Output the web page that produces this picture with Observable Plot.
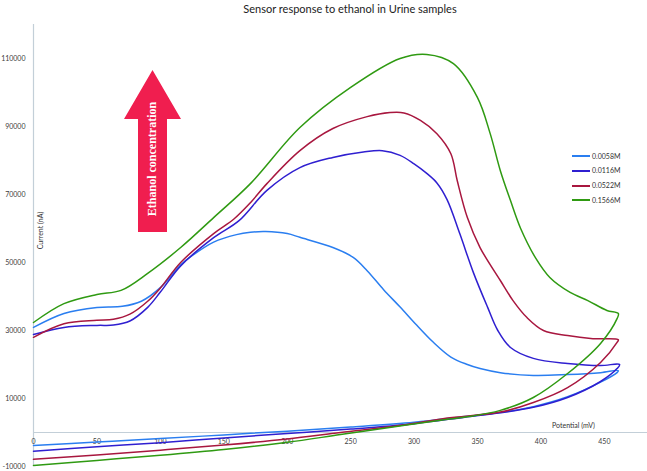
<!DOCTYPE html>
<html><head><meta charset="utf-8">
<script src="https://cdn.jsdelivr.net/npm/d3@7"></script>
<script src="https://cdn.jsdelivr.net/npm/@observablehq/plot@0.6"></script>
<style>
body{margin:0;background:#fff;}
#wrap{position:relative;width:647px;height:471px;overflow:hidden;background:#fff;font-family:Lato,"Open Sans",sans-serif;}
#title{position:absolute;top:2px;left:350px;transform:translateX(-50%);white-space:nowrap;font-size:11px;line-height:13px;color:#222;}
#chart{position:absolute;top:24px;left:0;}
#arrow{position:absolute;left:124px;top:70px;width:57px;height:162px;background:#f01e4f;
  clip-path:polygon(50% 0,100% 30.2%,75.4% 30.2%,75.4% 100%,24.6% 100%,24.6% 30.2%,0 30.2%);}
#arrowText{position:absolute;left:152px;top:159px;transform:translate(-50%,-50%) rotate(-90deg);white-space:nowrap;
  font-family:"Liberation Serif","DejaVu Serif",serif;font-weight:bold;font-size:12px;color:#fff;}
.lg-line{position:absolute;left:572px;width:18px;height:2px;}
.lg-text{position:absolute;left:592px;font-size:7px;line-height:9px;color:#333;white-space:nowrap;}
</style></head><body>
<div id="wrap">
  <div id="title">Sensor response to ethanol in Urine samples</div>
  <div id="chart"></div>
  <div id="arrow"></div>
  <div id="arrowText">Ethanol concentration</div>
  <div id="legend"></div>
</div>
<script>
const seriesLabels = ["0.0058M", "0.0116M", "0.0522M", "0.1566M"];
const seriesColors = ["#2a7ef0", "#2f1fd0", "#a8173f", "#2f9a12"];
const xTicks = [0, 50, 100, 150, 200, 250, 300, 350, 400, 450];
const yTicks = [-10000, 10000, 30000, 50000, 70000, 90000, 110000];

// 0.0058M (forward branch, then reverse branch)
const potential0058 = [0,24,50,70,85,100,116,125,142,160,171,183,200,210,236,252,263,276,289,302,315,329,342,352,368,394,421,447,461,
  460,447,421,394,368,340,300,250,200,150,100,50,0];
const current0058 = [30900,35000,36800,37100,38600,42600,49300,52000,56000,58200,58900,59100,58500,57400,54400,51500,47600,42000,36900,31600,26600,22200,20000,18800,17600,16800,17050,17600,18200,
  17600,14800,10500,7600,5900,4700,3000,1600,400,-700,-1800,-2800,-3800];

// 0.0116M
const potential0116 = [0,24,50,63,76,90,100,116,142,162,184,210,236,260,275,289,300,310,318,326,336,347,358,366,376,394,421,447,462,
  460,447,421,394,368,340,300,250,200,150,100,50,0];
const current0116 = [28800,30900,31500,31600,32800,36800,41300,49000,57300,62300,71200,77900,80900,82500,82900,81500,79000,76200,73400,68500,58500,46800,36800,30000,25000,21800,20300,19700,20000,
  18800,15000,10300,7400,5800,4500,2600,1000,-300,-1600,-3000,-4200,-5500];

// 0.0522M
const potential0522 = [0,24,50,63,76,90,100,116,142,158,171,184,210,236,263,281,292,305,318,329,334,342,352,368,378,389,402,421,441,461,
  460,447,421,394,368,325,290,242,200,150,100,50,0];
const current0522 = [28000,32000,33000,33300,34800,38600,42500,50000,58500,62800,67600,73200,82900,89400,92900,94100,94000,91800,87900,82000,74100,63200,54400,44700,38800,33800,30000,28500,27600,27300,
  26500,20600,13200,8800,6000,4200,2100,0,-1900,-3700,-5200,-6600,-7900];

// 0.1566M
const potential1566 = [0,24,50,69,90,116,142,171,210,250,289,310,331,350,360,368,376,384,396,407,423,437,452,461,
  460,447,421,394,368,342,325,290,242,200,150,100,50,0];
const current1566 = [32350,37900,40600,41800,46800,54400,63200,73200,89700,101500,110000,111200,108500,98500,87900,77000,68200,60000,51200,45600,41200,38800,35900,35000,
  33500,26200,17350,10300,6500,4600,3800,2000,-600,-2900,-5000,-6700,-8200,-9700];

const seriesX = [potential0058, potential0116, potential0522, potential1566];
const seriesY = [current0058, current0116, current0522, current1566];
const rows = [];
seriesLabels.forEach((s, i) => {
  seriesX[i].forEach((x, j) => rows.push({series: s, potential: x, current: seriesY[i][j]}));
});

const axisColor = "#c3cfd8";
const chart = Plot.plot({
  width: 647, height: 447,
  marginTop: 0, marginBottom: 5, marginLeft: 33, marginRight: 0,
  style: {fontFamily: "Lato, 'Open Sans', sans-serif", fontSize: "7px", color: "#404040", background: "transparent", overflow: "visible"},
  x: {domain: [0, 484], axis: null},
  y: {domain: [-10000, 120000], axis: null},
  color: {domain: seriesLabels, range: seriesColors},
  marks: [
    Plot.ruleY([0], {stroke: axisColor, strokeWidth: 1.2}),
    Plot.ruleX([0], {stroke: axisColor, strokeWidth: 1.2}),
    Plot.axisY(yTicks, {anchor: "left", tickSize: 0, tickPadding: 8, tickFormat: d => String(d), label: null}),
    Plot.text(xTicks, {x: d => d, y: () => 0, dy: 9, text: d => String(d), fill: "#404040"}),
    Plot.text(["Current (nA)"], {text: d => d, frameAnchor: "left", textAnchor: "middle", rotate: -90, dx: 7, dy: -15, fill: "#333"}),
    Plot.text(["Potential (mV)"], {text: d => d, frameAnchor: "bottom-right", textAnchor: "middle", dx: -74, dy: -39, fill: "#333"}),
    Plot.line(rows, {x: "potential", y: "current", stroke: "series", z: "series", curve: "catmull-rom", strokeWidth: 1.5})
  ]
});
document.getElementById("chart").appendChild(chart);

const legend = document.getElementById("legend");
seriesLabels.forEach((label, i) => {
  const cy = 156 + i * 14.8;
  const ln = document.createElement("div");
  ln.className = "lg-line";
  ln.style.top = (cy - 1) + "px";
  ln.style.background = seriesColors[i];
  const tx = document.createElement("div");
  tx.className = "lg-text";
  tx.style.top = (cy - 4.5) + "px";
  tx.textContent = label;
  legend.appendChild(ln);
  legend.appendChild(tx);
});
</script>
</body></html>
